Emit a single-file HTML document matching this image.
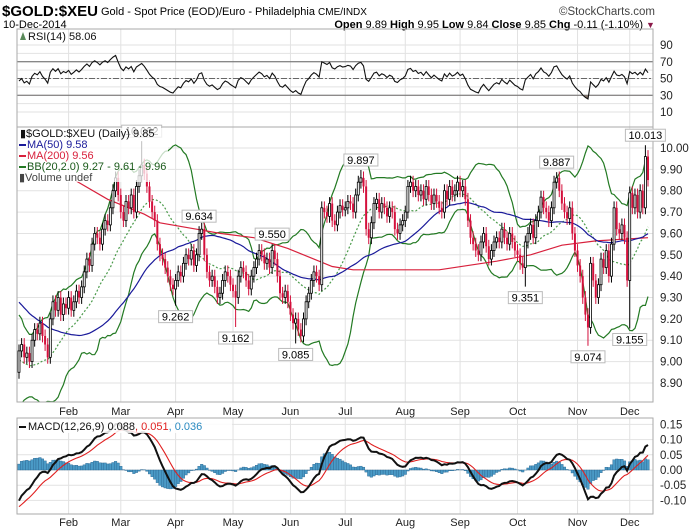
<!DOCTYPE html>
<html><head><meta charset="utf-8">
<style>
html,body{margin:0;padding:0;background:#fff;}
svg{display:block;font-family:"Liberation Sans",sans-serif;}
</style></head>
<body>
<svg id="chart" xmlns="http://www.w3.org/2000/svg" width="700" height="530" viewBox="0 0 700 530">
<defs>
<clipPath id="clipMain"><rect x="17" y="127" width="636" height="275"/></clipPath>
<clipPath id="clipRsi"><rect x="17" y="29" width="636" height="98"/></clipPath>
<clipPath id="clipMacd"><rect x="17" y="418" width="636" height="96"/></clipPath>
<clipPath id="below30"><rect x="17" y="95.3" width="636" height="40"/></clipPath>
</defs>
<g>
<text x="2" y="16" font-size="14.5" font-weight="bold" textLength="96" lengthAdjust="spacingAndGlyphs">$GOLD:$XEU</text>
<text x="101" y="15" font-size="11">Gold - Spot Price (EOD)/Euro - Philadelphia <tspan font-size="10">CME/INDX</tspan></text>
<text x="655" y="15" font-size="11.5" text-anchor="end" fill="#444">©StockCharts.com</text>
<text x="3" y="28" font-size="11">10-Dec-2014</text>
<text x="643" y="28" font-size="11" text-anchor="end"><tspan font-weight="bold">Open</tspan> 9.89 <tspan font-weight="bold">High</tspan> 9.95 <tspan font-weight="bold">Low</tspan> 9.84 <tspan font-weight="bold">Close</tspan> 9.85 <tspan font-weight="bold">Chg</tspan> -0.11 (-1.10%)</text>
<text x="646" y="28" font-size="9" fill="#8b1a4a">▼</text>
</g>
<g id="grid"></g>
<g id="rsiG" clip-path="url(#clipRsi)"></g>
<g id="mainG" clip-path="url(#clipMain)"></g>
<g id="macdG" clip-path="url(#clipMacd)"></g>
<g id="frames"></g>
<g id="labels"></g>
</svg>
<script>
// ---------- data ----------
const preCloses=[9.75,9.72,9.70,9.66,9.68,9.62,9.60,9.62,9.55,9.58,9.52,9.50,9.54,9.48,9.45,9.50,9.46,9.42,9.40,9.44,9.38,9.35,9.40,9.36,9.30,9.28,9.32,9.26,9.22,9.25,9.20,9.18,9.22,9.15,9.12,9.10,9.06,9.08,9.02,8.98,9.00,8.96,8.94,8.90,8.92,8.88,8.86,8.90,8.88,8.95];
const closes=[
9.05,9.08,9.02,9.04,9.00,9.10,9.15,9.13,9.18,9.12,9.08,9.02,9.20,9.28,9.24,9.30,9.22,9.27,9.25,
9.30,9.24,9.28,9.33,9.30,9.35,9.42,9.48,9.45,9.55,9.60,9.58,9.55,9.62,9.66,9.64,9.72,9.80,9.86,9.78,
9.70,9.66,9.75,9.72,9.78,9.70,9.82,9.87,9.92,9.88,9.82,9.75,9.70,9.66,9.55,9.50,9.48,9.44,9.40,9.36,9.34,
9.38,9.42,9.40,9.46,9.50,9.48,9.52,9.45,9.50,9.60,9.62,9.50,9.42,9.38,9.40,9.35,9.30,9.32,9.38,9.42,9.40,9.36,
9.33,9.30,9.40,9.44,9.42,9.38,9.34,9.40,9.44,9.48,9.52,9.50,9.46,9.48,9.44,9.52,9.48,9.40,9.32,9.30,9.33,9.28,
9.22,9.18,9.20,9.15,9.12,9.20,9.28,9.32,9.38,9.42,9.40,9.36,9.72,9.70,9.68,9.74,9.66,9.64,9.70,9.73,9.71,
9.72,9.75,9.74,9.70,9.78,9.84,9.86,9.82,9.62,9.58,9.65,9.74,9.76,9.70,9.74,9.72,9.68,9.72,9.70,9.62,9.60,9.64,9.66,
9.70,9.82,9.84,9.80,9.82,9.78,9.80,9.76,9.82,9.78,9.74,9.78,9.75,9.72,9.70,9.80,9.76,9.82,9.78,9.80,9.84,
9.80,9.82,9.76,9.66,9.58,9.55,9.52,9.50,9.56,9.60,9.54,9.48,9.52,9.56,9.58,9.56,9.62,9.58,9.55,9.60,9.56,9.52,
9.50,9.46,9.44,9.56,9.60,9.64,9.58,9.66,9.70,9.77,9.72,9.70,9.66,9.72,9.84,9.86,9.80,9.74,9.70,9.67,9.72,9.60,9.52,
9.45,9.40,9.30,9.22,9.16,9.46,9.38,9.30,9.36,9.48,9.44,9.52,9.40,9.55,9.72,9.62,9.60,9.64,9.58,9.38,
9.79,9.72,9.78,9.70,9.80,9.72,9.96,9.85];
const ma200Idx=[22,34,48,54,68,77,90,103,113,120,128,161,183,196,208,221,241];
const ma200Val=[9.845,9.76,9.69,9.65,9.62,9.60,9.58,9.53,9.48,9.445,9.43,9.43,9.47,9.50,9.545,9.565,9.58];
const annIdx=[47,69,60,83,97,106,131,194,206,218,234,240];
const annVal=[10.032,9.634,9.262,9.162,9.550,9.085,9.897,9.351,9.887,9.074,9.155,10.013];
const annUp=[1,1,0,0,1,0,1,0,1,0,0,1];
const months=['Feb','Mar','Apr','May','Jun','Jul','Aug','Sep','Oct','Nov','Dec'];
const monthIdx=[19,39,60,82,104,125,148,169,191,214,234];
const priceTicks=[10.00,9.90,9.80,9.70,9.60,9.50,9.40,9.30,9.20,9.10,9.00,8.90];
const rsiTicks=[90,70,50,30,10];
const macdTicks=[0.15,0.10,0.05,0.00,-0.05,-0.10];

// ---------- axes ----------
const N=closes.length;
const X0=19, X1=648;
function xOf(i){return X0+i*(X1-X0)/(N-1);}
function yP(p){return 148+(10-p)*213.6;}
function yR(r){return 112-(r-10)*0.8375;}
function yM(m){return 470-m*304;}
const NS="http://www.w3.org/2000/svg";
function mk(tag,attrs,parent){const e=document.createElementNS(NS,tag);for(const k in attrs)e.setAttribute(k,attrs[k]);if(parent)parent.appendChild(e);return e;}
const grid=document.getElementById('grid'),rsiG=document.getElementById('rsiG'),mainG=document.getElementById('mainG'),macdG=document.getElementById('macdG'),frames=document.getElementById('frames'),labels=document.getElementById('labels');

// ---------- indicators ----------
const all=preCloses.concat(closes);const P=preCloses.length;
function sma(n,j){let s=0;for(let k=j-n+1;k<=j;k++)s+=all[k];return s/n;}
function sd(n,j,m){let s=0;for(let k=j-n+1;k<=j;k++)s+=(all[k]-m)*(all[k]-m);return Math.sqrt(s/n);}
function ema(arr,n){const k=2/(n+1);const out=[arr[0]];for(let j=1;j<arr.length;j++)out.push(arr[j]*k+out[j-1]*(1-k));return out;}
const e12=ema(all,12),e26=ema(all,26);
const macdAll=all.map((v,j)=>e12[j]-e26[j]);
const sigAll=ema(macdAll,9);
const rsiAll=[];
(function(){let ag=0,al=0;for(let j=1;j<all.length;j++){const d=all[j]-all[j-1];const g=Math.max(d,0),l=Math.max(-d,0);if(j<=14){ag+=g/14;al+=l/14;}else{ag=(ag*13+g)/14;al=(al*13+l)/14;}rsiAll[j]=al===0?100:100-100/(1+ag/al);}})();

// ---------- grid ----------
for(const t of rsiTicks){const l=mk('line',{x1:17,x2:653,y1:yR(t),y2:yR(t),stroke:'#e2e2e2'},grid);

}
for(let r=20;r<=80;r+=20){const l=mk('line',{x1:17,x2:653,y1:yR(r),y2:yR(r),stroke:'#e2e2e2'},grid);

}
for(const t of priceTicks){const l=mk('line',{x1:17,x2:653,y1:yP(t),y2:yP(t),stroke:'#e2e2e2'},grid);

}
for(const t of macdTicks){const l=mk('line',{x1:17,x2:653,y1:yM(t),y2:yM(t),stroke:'#e2e2e2'},grid);

}
monthIdx.forEach((mi,k)=>{const x=xOf(mi);
for(const [a,b] of [[29,127],[127,402],[418,514]]){const l=mk('line',{x1:x,x2:x,y1:a,y2:b,stroke:'#e2e2e2'},grid);

}
for(const yy of [415,526]){const t=mk('text',{x:x,y:yy,'font-size':11,'text-anchor':'middle',fill:'#222'},labels);t.textContent=months[k];

}
});

// ---------- RSI ----------
for(const [v,dash,col] of [[70,'', '#666'],[30,'','#666'],[50,'6,2,2,2','#666']]){const l=mk('line',{x1:17,x2:653,y1:yR(v),y2:yR(v),stroke:col,'stroke-dasharray':dash},rsiG);

}
let rp='';for(let i=0;i<N;i++)rp+=(i?'L':'M')+xOf(i).toFixed(1)+','+yR(rsiAll[P+i]).toFixed(1);
const rFill=mk('path',{d:rp+'L'+xOf(N-1)+','+yR(30)+'L'+xOf(0)+','+yR(30)+'Z',fill:'#8a7a70','clip-path':'url(#below30)'},rsiG);


const rLine=mk('path',{d:rp,fill:'none',stroke:'#111','stroke-width':1.1},rsiG);



// ---------- Bollinger & MAs ----------
let bu='',bl='',bm='',m50='';
for(let i=0;i<N;i++){const j=P+i;const m=sma(20,j),s=sd(20,j,m);const x=xOf(i).toFixed(1);const c=i?'L':'M';
bu+=c+x+','+yP(m+2*s).toFixed(1);bl+=c+x+','+yP(m-2*s).toFixed(1);bm+=c+x+','+yP(m).toFixed(1);m50+=c+x+','+yP(sma(50,j)).toFixed(1);}
const bbU=mk('path',{d:bu,fill:'none',stroke:'#237a23','stroke-width':1.2},mainG);


const bbL=mk('path',{d:bl,fill:'none',stroke:'#237a23','stroke-width':1.2},mainG);


const bbM=mk('path',{d:bm,fill:'none',stroke:'#4a9a4a','stroke-width':1.2,'stroke-dasharray':'2,2'},mainG);


let m200='';ma200Idx.forEach((ix,k)=>{m200+=(k?'L':'M')+xOf(ix).toFixed(1)+','+yP(ma200Val[k]).toFixed(1);});
const ma200L=mk('path',{d:m200,fill:'none',stroke:'#d8203c','stroke-width':1.2},mainG);


const ma50L=mk('path',{d:m50,fill:'none',stroke:'#1a1a9a','stroke-width':1.2},mainG);



// ---------- candles ----------
for(let i=0;i<N;i++){const o=all[P+i-1],c=closes[i];let hi=Math.max(o,c)+0.03,lo=Math.min(o,c)-0.03;
const a=annIdx.indexOf(i);if(a>=0){if(annUp[a])hi=annVal[a];else lo=annVal[a];}
const x=xOf(i),up=c>=o,col=up?'#000':'#d4103c';
const g=mk('g',{},mainG);


mk('line',{x1:x,x2:x,y1:yP(hi),y2:yP(lo),stroke:col,'stroke-width':1},g);
const top=yP(Math.max(o,c)),h=Math.max(1,yP(Math.min(o,c))-top);
mk('rect',{x:x-1,y:top,width:2,height:h,fill:up?'#fff':col,stroke:col,'stroke-width':up?0.8:0},g);}

// ---------- annotations ----------
annIdx.forEach((ix,k)=>{const x=xOf(ix),y=yP(annVal[k]);const txt=annVal[k].toFixed(3);const w=txt.length*6+4;
const g=mk('g',{},labels);


const by=annUp[k]?y-16:y+5;
mk('rect',{x:x-w/2,y:by,width:w,height:12,fill:'#fff',stroke:'#bbb'},g);
const t=mk('text',{x:x,y:by+10,'font-size':11,'text-anchor':'middle'},g);t.textContent=txt;});

// ---------- MACD ----------
for(let i=0;i<N;i++){const j=P+i,h=macdAll[j]-sigAll[j];const x=xOf(i);const r=mk('rect',{x:x-1.3,y:Math.min(yM(0),yM(h)),width:2.61,height:Math.abs(yM(h)-yM(0)),fill:'#4a9ac6',stroke:'#2a6590','stroke-width':0.4},macdG);

}
let mp='',sp='';for(let i=0;i<N;i++){const c=i?'L':'M',x=xOf(i).toFixed(1);mp+=c+x+','+yM(macdAll[P+i]).toFixed(1);sp+=c+x+','+yM(sigAll[P+i]).toFixed(1);}
const sigL=mk('path',{d:sp,fill:'none',stroke:'#e02020','stroke-width':1.1},macdG);


const macL=mk('path',{d:mp,fill:'none',stroke:'#111','stroke-width':2},macdG);



// ---------- frames & axis labels ----------
for(const [a,b,nm] of [[29,127,'rsi-panel'],[127,402,'price-panel'],[418,514,'macd-panel']]){const r=mk('rect',{x:17,y:a,width:636,height:b-a,fill:'none',stroke:'#aaa'},frames);

}
function ylab(v,y,nm){const t=mk('text',{x:660,y:y+4,'font-size':11.5,fill:'#222'},labels);t.textContent=v;

}
rsiTicks.forEach(v=>ylab(String(v),yR(v),'rsi-tick-label'));
priceTicks.forEach(v=>ylab(v.toFixed(2),yP(v),'price-tick-label'));
macdTicks.forEach(v=>ylab((v<0?'-':' ')+Math.abs(v).toFixed(2),yM(v),'macd-tick-label'));

// ---------- legends ----------
function leg(txt,x,y,col,nm){const t=mk('text',{x:x,y:y,'font-size':11,fill:col},labels);t.textContent=txt;

return t;}
mk('path',{d:'M20,40 L23,32 L26,40 Z',fill:'#5a8a5a'},labels);
leg('RSI(14) 58.06',28,40,'#111','rsi-legend');
const lb=mk('rect',{x:18,y:128,width:150,height:54,fill:'#fff','fill-opacity':0.75},labels);


leg('▮$GOLD:$XEU (Daily) 9.85',20,137,'#111','price-legend');
mk('rect',{x:19,y:144,width:7,height:2,fill:'#1a1a9a'},labels);
leg('MA(50) 9.58',27,148,'#1a1a9a','ma50-legend');
mk('rect',{x:19,y:155,width:7,height:2,fill:'#d8203c'},labels);
leg('MA(200) 9.56',27,159,'#d8203c','ma200-legend');
mk('rect',{x:19,y:166,width:7,height:2,fill:'#237a23'},labels);
leg('BB(20,2.0) 9.27 - 9.61 - 9.96',27,170,'#1a5a1a','bb-legend');
leg('▮Volume undef',19,181,'#444','volume-legend');
const mlb=mk('rect',{x:18,y:419,width:214,height:14,fill:'#fff','fill-opacity':0.85},labels);


mk('rect',{x:19,y:426,width:7,height:2,fill:'#111'},labels);
const ml=mk('text',{x:28,y:430,'font-size':11,fill:'#111'},labels);
ml.innerHTML='MACD(12,26,9) 0.088<tspan fill="#e02020">, 0.051</tspan><tspan fill="#2a8ac0">, 0.036</tspan>';


</script>
</body></html>
